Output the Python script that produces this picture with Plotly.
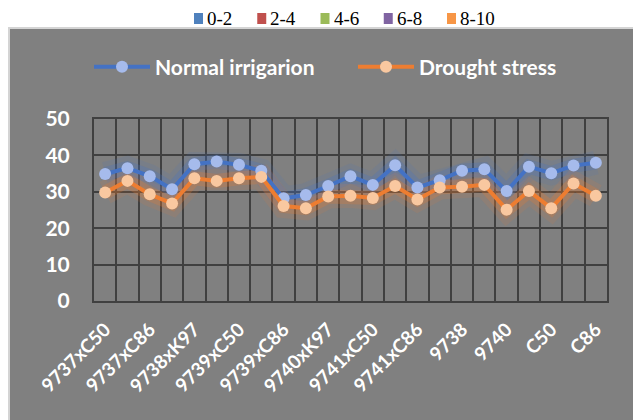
import plotly.graph_objects as go

# ---- data ----
categories = ["9737xC50", "9737xK97", "9737xC86", "9738xC50", "9738xK97", "9738xC86",
              "9739xC50", "9739xK97", "9739xC86", "9740xC50", "9740xK97", "9740xC86",
              "9741xC50", "9741xK97", "9741xC86", "9737", "9738", "9739", "9740", "9741",
              "C50", "K97", "C86"]
shown_labels = ["9737xC50", "9737xC86", "9738xK97", "9739xC50", "9739xC86", "9740xK97",
                "9741xC50", "9741xC86", "9738", "9740", "C50", "C86"]
normal_irrigation = [34.9, 36.5, 34.3, 30.7, 37.6, 38.3, 37.4, 35.8, 28.2, 29.1, 31.6, 34.3,
                     31.9, 37.3, 31.2, 33.2, 35.8, 36.2, 30.2, 36.9, 35.1, 37.2, 38.0]
drought_stress = [29.8, 33.0, 29.3, 26.8, 33.7, 33.0, 33.7, 34.1, 26.1, 25.5, 28.7, 28.9,
                  28.3, 31.6, 27.9, 31.2, 31.4, 31.9, 25.1, 30.2, 25.5, 32.3, 28.9]
range_labels = ["0-2", "2-4", "4-6", "6-8", "8-10"]
range_colors = ["#4F81BD", "#C0504D", "#9BBB59", "#8064A2", "#F79646"]
y_ticks = [0, 10, 20, 30, 40, 50]

W, H = 633, 420
L, R, T, B = 94, 26, 119, 119
PW, PH = W - L - R, H - T - B


def px_x(p):
    return (p - L) / PW


def px_y(p):
    return (H - B - p) / PH


fig = go.Figure()

series = [
    ("Normal irrigarion", normal_irrigation, "#4472C4", "#a6bbec", (68, 114, 196)),
    ("Drought stress", drought_stress, "#ED7D31", "#f9c8a0", (237, 125, 49)),
]

# glow layers
for name, vals, lc, mc, rgb in series:
    for w, a in [(24, 0.12), (14, 0.25)]:
        fig.add_trace(go.Scatter(x=categories, y=vals, mode="lines",
                                 line=dict(color=f"rgba({rgb[0]},{rgb[1]},{rgb[2]},{a})", width=w),
                                 showlegend=False, hoverinfo="skip"))
for name, vals, lc, mc, rgb in series:
    fig.add_trace(go.Scatter(x=categories, y=vals, mode="lines+markers", name=name,
                             line=dict(color=lc, width=4),
                             marker=dict(color=mc, size=12),
                             legend="legend2"))

ticktext = [c if c in shown_labels else "" for c in categories]

# top class legend (swatches + labels)
shapes = [dict(type="rect", xref="paper", yref="paper", layer="below",
               x0=px_x(9), x1=px_x(645), y0=px_y(430), y1=px_y(28),
               fillcolor="#808080", line=dict(color="#d4d4d4", width=2))]
annotations = []
step = 63.25
for i, (lab, col) in enumerate(zip(range_labels, range_colors)):
    sx = 194 + step * i
    shapes.append(dict(type="rect", xref="paper", yref="paper",
                       x0=px_x(sx), x1=px_x(sx + 9), y0=px_y(24), y1=px_y(13),
                       fillcolor=col, line=dict(width=0)))
    annotations.append(dict(text=lab, xref="paper", yref="paper", x=px_x(sx + 11), y=px_y(18.5),
                            xanchor="left", yanchor="middle", showarrow=False,
                            font=dict(family="Liberation Serif", size=19, color="black")))

fig.update_layout(
    width=W, height=H,
    margin=dict(l=L, r=R, t=T, b=B),
    paper_bgcolor="white",
    plot_bgcolor="#808080",
    font=dict(family="Lato", color="white"),
    showlegend=True,
    legend2=dict(orientation="h", xanchor="left", x=px_x(89), yanchor="middle", y=px_y(67),
                 font=dict(family="Lato", size=21, color="white", weight="bold"),
                 bgcolor="rgba(0,0,0,0)", itemwidth=56, entrywidth=193),
    xaxis=dict(type="category", tickmode="array", tickvals=categories, ticktext=ticktext,
               tickson="boundaries", showgrid=True, gridcolor="#404040", gridwidth=2,
               tickangle=-45, tickfont=dict(family="Lato", size=19, color="white", weight="bold"),
               ticks="outside", ticklen=24, tickcolor="rgba(0,0,0,0)", ticklabelstandoff=8,
               showline=True, linecolor="#404040", linewidth=2, mirror=True,
               range=[-0.5, len(categories) - 0.5], zeroline=False),
    yaxis=dict(range=[0, 50], tickvals=y_ticks, showgrid=True, gridcolor="#404040", gridwidth=2,
               tickfont=dict(family="Lato", size=21, color="white", weight="bold"),
               ticks="outside", ticklen=18, tickcolor="rgba(0,0,0,0)",
               showline=True, linecolor="#404040", linewidth=2, mirror=True, zeroline=False),
    shapes=shapes,
    annotations=annotations,
)

fig.write_html("out.html", config={"displayModeBar": False},
               post_script="document.body.style.margin='0';document.body.style.overflow='hidden';")
